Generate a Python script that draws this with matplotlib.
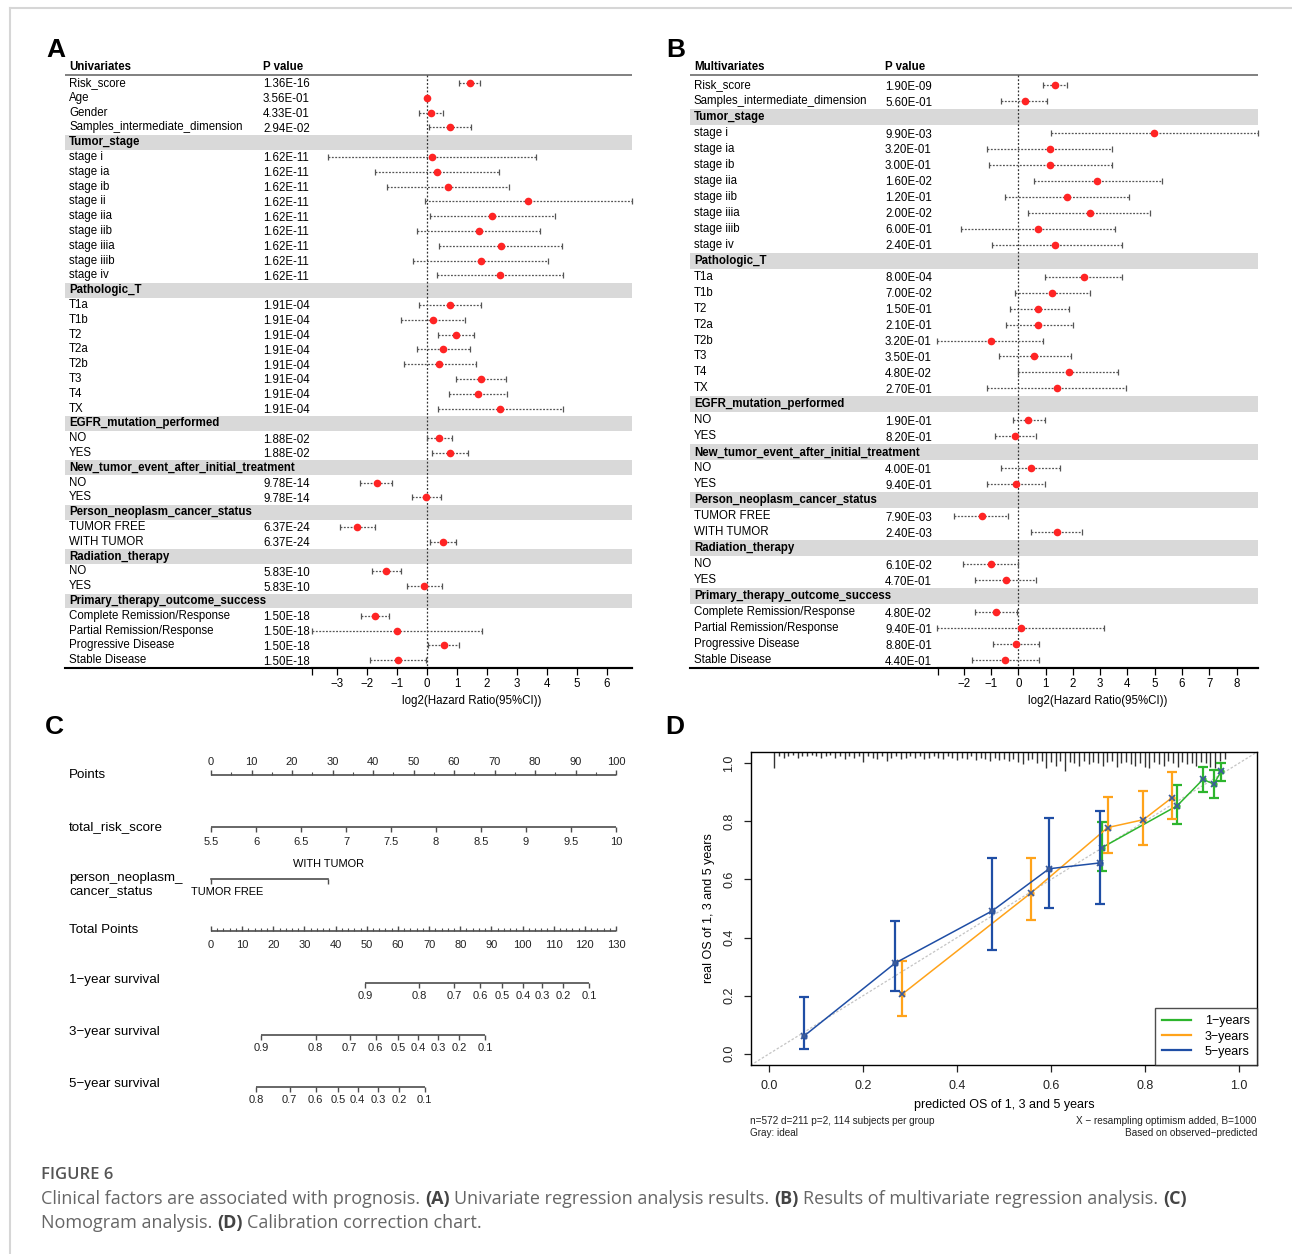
import numpy as np
import matplotlib
matplotlib.use('Agg')
import matplotlib.pyplot as plt
from matplotlib.lines import Line2D

plt.rcParams['font.family'] = ['Liberation Sans', 'DejaVu Sans']
nan = np.nan

# ---------------- data ----------------
uni_labels = ['Risk_score', 'Age', 'Gender', 'Samples_intermediate_dimension',
              'Tumor_stage', 'stage i', 'stage ia', 'stage ib', 'stage ii', 'stage iia',
              'stage iib', 'stage iiia', 'stage iiib', 'stage iv',
              'Pathologic_T', 'T1a', 'T1b', 'T2', 'T2a', 'T2b', 'T3', 'T4', 'TX',
              'EGFR_mutation_performed', 'NO', 'YES',
              'New_tumor_event_after_initial_treatment', 'NO', 'YES',
              'Person_neoplasm_cancer_status', 'TUMOR FREE', 'WITH TUMOR',
              'Radiation_therapy', 'NO', 'YES',
              'Primary_therapy_outcome_success', 'Complete Remission/Response',
              'Partial Remission/Response', 'Progressive Disease', 'Stable Disease']
uni_p = ['1.36E-16', '3.56E-01', '4.33E-01', '2.94E-02',
         ''] + ['1.62E-11'] * 9 + [''] + ['1.91E-04'] * 8 + [''] + ['1.88E-02'] * 2 + \
        [''] + ['9.78E-14'] * 2 + [''] + ['6.37E-24'] * 2 + [''] + ['5.83E-10'] * 2 + \
        [''] + ['1.50E-18'] * 4
uni_hr = [1.43, 0.0, 0.13, 0.76, nan, 0.15, 0.32, 0.69, 3.37, 2.17, 1.72, 2.46, 1.80, 2.43,
          nan, 0.76, 0.18, 0.97, 0.54, 0.41, 1.80, 1.70, 2.45, nan, 0.41, 0.76,
          nan, -1.69, -0.03, nan, -2.34, 0.53, nan, -1.36, -0.10,
          nan, -1.74, -1.02, 0.57, -0.99]
uni_lo = [1.08, -0.03, -0.26, 0.06, nan, -3.31, -1.74, -1.35, -0.08, 0.08, -0.33, 0.41, -0.46, 0.32,
          nan, -0.26, -0.89, 0.35, -0.33, -0.79, 0.97, 0.72, 0.37, nan, 0.0, 0.17,
          nan, -2.23, -0.51, nan, -2.92, 0.10, nan, -1.84, -0.68,
          nan, -2.20, -3.85, 0.03, -1.90]
uni_hi = [1.76, 0.03, 0.53, 1.47, nan, 3.63, 2.39, 2.73, 6.85, 4.26, 3.78, 4.50, 4.05, 4.54,
          nan, 1.80, 1.26, 1.58, 1.42, 1.62, 2.64, 2.68, 4.53, nan, 0.84, 1.38,
          nan, -1.17, 0.46, nan, -1.76, 0.98, nan, -0.88, 0.50,
          nan, -1.27, 1.83, 1.07, -0.05]

multi_labels = ['Risk_score', 'Samples_intermediate_dimension',
                'Tumor_stage', 'stage i', 'stage ia', 'stage ib', 'stage iia', 'stage iib',
                'stage iiia', 'stage iiib', 'stage iv',
                'Pathologic_T', 'T1a', 'T1b', 'T2', 'T2a', 'T2b', 'T3', 'T4', 'TX',
                'EGFR_mutation_performed', 'NO', 'YES',
                'New_tumor_event_after_initial_treatment', 'NO', 'YES',
                'Person_neoplasm_cancer_status', 'TUMOR FREE', 'WITH TUMOR',
                'Radiation_therapy', 'NO', 'YES',
                'Primary_therapy_outcome_success', 'Complete Remission/Response',
                'Partial Remission/Response', 'Progressive Disease', 'Stable Disease']
multi_p = ['1.90E-09', '5.60E-01', '', '9.90E-03', '3.20E-01', '3.00E-01', '1.60E-02',
           '1.20E-01', '2.00E-02', '6.00E-01', '2.40E-01', '', '8.00E-04', '7.00E-02',
           '1.50E-01', '2.10E-01', '3.20E-01', '3.50E-01', '4.80E-02', '2.70E-01', '',
           '1.90E-01', '8.20E-01', '', '4.00E-01', '9.40E-01', '', '7.90E-03', '2.40E-03',
           '', '6.10E-02', '4.70E-01', '', '4.80E-02', '9.40E-01', '8.80E-01', '4.40E-01']
multi_hr = [1.36, 0.25, nan, 4.98, 1.17, 1.17, 2.89, 1.78, 2.63, 0.74, 1.36,
            nan, 2.40, 1.24, 0.74, 0.74, -1.00, 0.57, 1.87, 1.41, nan, 0.35, -0.13,
            nan, 0.45, -0.07, nan, -1.34, 1.41, nan, -1.00, -0.44,
            nan, -0.81, 0.11, -0.08, -0.50]
multi_lo = [0.91, -0.64, nan, 1.19, -1.15, -1.08, 0.57, -0.48, 0.37, -2.08, -0.96,
            nan, 0.99, -0.11, -0.30, -0.45, -2.96, -0.69, 0.0, -1.15, nan, -0.21, -0.86,
            nan, -0.64, -1.15, nan, -2.35, 0.47, nan, -2.02, -1.57,
            nan, -1.57, -2.96, -0.92, -1.70]
multi_hi = [1.80, 1.06, nan, 8.78, 3.44, 3.44, 5.26, 4.06, 4.82, 3.56, 3.80,
            nan, 3.79, 2.63, 1.87, 2.01, 0.89, 1.94, 3.66, 3.96, nan, 0.98, 0.65,
            nan, 1.51, 0.98, nan, -0.38, 2.35, nan, -0.01, 0.65,
            nan, -0.04, 3.15, 0.75, 0.75]

# nomogram (points scale 0-100)
points_ticks = list(range(0, 101, 10))
risk_ticks = [5.5, 6, 6.5, 7, 7.5, 8, 8.5, 9, 9.5, 10]
risk_range = (5.5, 10)
neo_levels = ['TUMOR FREE', 'WITH TUMOR']
neo_points = [0, 29]
total_ticks = list(range(0, 131, 10))
total_max = 130
surv1_prob = [0.9, 0.8, 0.7, 0.6, 0.5, 0.4, 0.3, 0.2, 0.1]
surv1_tot = [49.4, 66.9, 78.0, 86.4, 93.5, 100.1, 106.4, 113.1, 121.4]
surv3_prob = [0.9, 0.8, 0.7, 0.6, 0.5, 0.4, 0.3, 0.2, 0.1]
surv3_tot = [16.2, 33.6, 44.5, 52.9, 60.0, 66.4, 72.9, 79.7, 87.9]
surv5_prob = [0.8, 0.7, 0.6, 0.5, 0.4, 0.3, 0.2, 0.1]
surv5_tot = [14.4, 25.2, 33.6, 40.7, 47.1, 53.6, 60.3, 68.6]

# calibration
cal1_x = [0.709, 0.869, 0.924, 0.947, 0.963]
cal1_y = [0.710, 0.854, 0.945, 0.929, 0.973]
cal1_lo = [0.629, 0.791, 0.902, 0.882, 0.941]
cal1_hi = [0.798, 0.924, 0.988, 0.979, 1.000]
cal3_x = [0.283, 0.557, 0.721, 0.797, 0.858]
cal3_y = [0.205, 0.553, 0.779, 0.806, 0.882]
cal3_lo = [0.128, 0.459, 0.692, 0.720, 0.809]
cal3_hi = [0.318, 0.675, 0.885, 0.906, 0.969]
cal5_x = [0.074, 0.268, 0.475, 0.596, 0.704]
cal5_y = [0.061, 0.312, 0.492, 0.637, 0.657]
cal5_lo = [0.017, 0.217, 0.358, 0.502, 0.516]
cal5_hi = [0.196, 0.457, 0.674, 0.812, 0.836]
# distribution of predictions, bins 0.01 ... 0.97 (tick length)
rug_bins = np.round(np.arange(1, 98) / 100, 2)
rug_len = [14, 4, 5, 4, 3, 5, 4, 4, 3, 4,
           5, 4, 3, 5, 4, 6, 4, 5, 4, 9,
           4, 5, 6, 4, 8, 5, 4, 6, 5, 4,
           5, 4, 6, 5, 4, 5, 6, 4, 5, 7,
           5, 6, 4, 7, 5, 6, 8, 5, 7, 6,
           8, 6, 9, 11, 7, 6, 10, 8, 14, 9,
           12, 8, 17, 9, 10, 12, 8, 11, 9, 10,
           12, 9, 8, 13, 10, 9, 11, 12, 10, 13,
           14, 9, 11, 12, 8, 10, 13, 9, 11, 10,
           12, 9, 10, 13, 14, 8, 6]

W, H = 1292, 1254
fig = plt.figure(figsize=(W / 100, H / 100), dpi=100)


def px_axes(x0, y0, x1, y1):
    return fig.add_axes([x0 / W, 1 - y1 / H, (x1 - x0) / W, (y1 - y0) / H])


FS = 8.3


def forest(x0, x1, fx0, y_first, step, title, labels, pvals, hr, lo, hi, xlim, pcol, ticks):
    top, bot = 60, 668
    y_lo = (bot - y_first) / step
    y_hi = (top - y_first) / step
    rows = np.arange(len(labels))
    hr, lo, hi = np.array(hr), np.array(lo), np.array(hi)

    tab = px_axes(x0, top, x1, bot)
    tab.set_xlim(x0, x1)
    tab.set_ylim(y_lo, y_hi)
    tab.axis('off')
    head_y = (67 - y_first) / step
    line_y = (75 - y_first) / step
    tab.text(x0 + 4, head_y, title, fontsize=FS, fontweight='bold', va='center')
    tab.text(pcol, head_y, 'P value', fontsize=FS, fontweight='bold', va='center')
    tab.plot([x0, x1], [line_y, line_y], color='#808080', lw=1.4)
    tab.plot([x0, x1], [y_lo, y_lo], color='black', lw=1.5, clip_on=False)
    for i, (lab, p) in enumerate(zip(labels, pvals)):
        if p == '':
            tab.axhspan(i - 0.5, i + 0.5, color='#d9d9d9', lw=0)
            tab.text(x0 + 4, i, lab, fontsize=FS, fontweight='bold', va='center')
        else:
            tab.text(x0 + 4, i, lab, fontsize=FS, va='center')
            tab.text(pcol, i + 0.1, p, fontsize=FS, va='center')

    fa = px_axes(fx0, top, x1, bot)
    fa.patch.set_alpha(0)
    fa.set_xlim(*xlim)
    fa.set_ylim(y_lo, y_hi)
    for s in ['top', 'left', 'right']:
        fa.spines[s].set_visible(False)
    fa.spines['bottom'].set_linewidth(1.5)
    fa.set_yticks([])
    fa.set_xticks(ticks)
    fa.set_xticks([xlim[0]], minor=True)
    fa.tick_params(axis='x', which='both', direction='out', length=5, width=0.9,
                   labelsize=FS, pad=2)
    fa.set_xlabel('log2(Hazard Ratio(95%CI))', fontsize=FS, labelpad=4)
    fa.vlines(0, line_y, y_lo, color='#333333', lw=0.9, linestyles=(0, (1.5, 1.5)))
    ok = ~np.isnan(hr)
    fa.hlines(rows[ok], lo[ok], hi[ok], color='#555555', lw=0.9,
              linestyles=(0, (1.5, 1.2)), clip_on=False)
    fa.plot(lo[ok], rows[ok], '|', color='#555555', ms=5, mew=0.9, clip_on=False)
    fa.plot(hi[ok], rows[ok], '|', color='#555555', ms=5, mew=0.9, clip_on=False)
    fa.plot(hr[ok], rows[ok], 'o', color='#ff2424', ms=5.5, mec='none', clip_on=False)


forest(65, 632, 312, 83, 14.8, 'Univariates', uni_labels, uni_p, uni_hr, uni_lo, uni_hi,
       (-3.85, 6.85), 263, list(range(-3, 7)))
forest(690, 1258, 938, 85, 15.97, 'Multivariates', multi_labels, multi_p, multi_hr, multi_lo,
       multi_hi, (-2.94, 8.78), 885, list(range(-2, 9)))

# ---------------- C: nomogram ----------------
nom = px_axes(60, 740, 640, 1130)
nom.set_xlim((60 - 211) / 4.05, (640 - 211) / 4.05)
nom.set_ylim(1130, 740)
nom.axis('off')
lab_x = (69 - 211) / 4.05
NC = '#4d4d4d'


def scale(y, xs, labels, up, lab_dy, minor=()):
    nom.plot([min(xs), max(xs)], [y, y], color=NC, lw=1.2, solid_capstyle='butt')
    d = -5 if up else 5
    nom.vlines(xs, y, y + d, color=NC, lw=1)
    if len(minor):
        nom.vlines(minor, y, y + d * 0.6, color=NC, lw=0.8)
    for x, l in zip(xs, labels):
        nom.text(x, y + lab_dy, l, ha='center', va='center', fontsize=8, color='#222222')


LFS = 9.6
nom.text(lab_x, 775, 'Points', fontsize=LFS, va='center')
scale(775, points_ticks, [str(v) for v in points_ticks], True, -13,
      minor=[v + 5 for v in points_ticks[:-1]])

nom.text(lab_x, 827, 'total_risk_score', fontsize=LFS, va='center')
risk_x = [(v - risk_range[0]) / (risk_range[1] - risk_range[0]) * 100 for v in risk_ticks]
scale(827, risk_x, [('%g' % v) for v in risk_ticks], False, 15)

nom.text(lab_x, 885, 'person_neoplasm_\ncancer_status', fontsize=LFS, va='center',
         linespacing=1.25)
nom.plot(neo_points, [879, 879], color=NC, lw=1.2)
nom.vlines(neo_points, 879, 884, color=NC, lw=1)
nom.text(neo_points[1], 864, neo_levels[1], ha='center', va='center', fontsize=7.9)
nom.text(neo_points[0] - 5, 892, neo_levels[0], ha='left', va='center', fontsize=7.9)

nom.text(lab_x, 930, 'Total Points', fontsize=LFS, va='center')
tot_x = [v / total_max * 100 for v in total_ticks]
tot_minor = [v / total_max * 100 for v in range(0, 131, 2) if v % 10]
scale(931, tot_x, [str(v) for v in total_ticks], True, 14, minor=tot_minor)

for y, name, probs, tots in [(983, '1\u2212year survival', surv1_prob, surv1_tot),
                             (1035, '3\u2212year survival', surv3_prob, surv3_tot),
                             (1087, '5\u2212year survival', surv5_prob, surv5_tot)]:
    nom.text(lab_x, y - 3, name, fontsize=LFS, va='center')
    scale(y, [t / total_max * 100 for t in tots], [('%g' % p) for p in probs], False, 13)

# ---------------- D: calibration ----------------
cal = px_axes(750.7, 751.8, 1257.4, 1065.2)
cal.set_xlim(-0.04, 1.04)
cal.set_ylim(-0.04, 1.04)
ticks = [0, 0.2, 0.4, 0.6, 0.8, 1.0]
cal.set_xticks(ticks)
cal.set_xticklabels(['%.1f' % t for t in ticks])
cal.set_yticks(ticks)
cal.set_yticklabels(['%.1f' % t for t in ticks], rotation=90, va='center')
cal.tick_params(direction='out', length=5, width=0.9, labelsize=9, pad=6, colors='#222222')
for s in cal.spines.values():
    s.set_linewidth(1.0)
cal.set_xlabel('predicted OS of 1, 3 and 5 years', fontsize=9, labelpad=5)
cal.set_ylabel('real OS of 1, 3 and 5 years', fontsize=9, labelpad=6)
cal.plot([-0.04, 1.04], [-0.04, 1.04], color='#c4c4c4', lw=0.9, ls=(0, (2, 1.5)))
cal.vlines(rug_bins, 1.04 - np.array(rug_len) * 1.15 / 290.3, 1.04, color='#333333', lw=1.0)

series = [('1\u2212years', '#2db52d', cal1_x, cal1_y, cal1_lo, cal1_hi),
          ('3\u2212years', '#ffa31a', cal3_x, cal3_y, cal3_lo, cal3_hi),
          ('5\u2212years', '#1f4ea5', cal5_x, cal5_y, cal5_lo, cal5_hi)]
handles = []
for name, c, xs, ys, lo, hi in series:
    ys_a = np.array(ys)
    err = [ys_a - np.array(lo), np.array(hi) - ys_a]
    cal.errorbar(xs, ys, yerr=err, fmt='none', ecolor=c, elinewidth=1.6, capsize=3.6,
                 capthick=1.6)
    cal.plot(xs, ys, '-', color=c, lw=1.1)
    cal.plot(xs, ys, 'o', color=c, ms=3.5)
    cal.plot(xs, ys, 'x', color='#3d5c99', ms=5, mew=1.2)
    handles.append(Line2D([], [], color=c, lw=1.6, label=name))
leg = cal.legend(handles=handles, loc='lower right', fontsize=9, frameon=True, fancybox=False,
                 borderaxespad=0, handlelength=2.3, handletextpad=1.1, borderpad=0.6,
                 labelspacing=0.25)
leg.get_frame().set_edgecolor('#222222')
leg.get_frame().set_linewidth(1.0)

SFS = 7.2
fig.text(750 / W, 1 - 1121 / H, 'n=572 d=211 p=2, 114 subjects per group', fontsize=SFS,
         va='center', color='#222222')
fig.text(750 / W, 1 - 1133 / H, 'Gray: ideal', fontsize=SFS, va='center', color='#222222')
fig.text(1257 / W, 1 - 1121 / H, 'X \u2212 resampling optimism added, B=1000', fontsize=SFS,
         va='center', ha='right', color='#222222')
fig.text(1257 / W, 1 - 1133 / H, 'Based on observed\u2212predicted', fontsize=SFS,
         va='center', ha='right', color='#222222')

# ---------------- panel letters ----------------
for letter, x, y in [('A', 46, 50), ('B', 666, 50), ('C', 45, 727), ('D', 665, 727)]:
    fig.text(x / W, 1 - y / H, letter, fontsize=19, fontweight='bold', va='center')

# ---------------- caption ----------------
renderer = fig.canvas.get_renderer()
CAP = ['Open Sans', 'DejaVu Sans']


def rich_line(x, y, parts, size):
    gap = size * 0.26 * 100 / 72
    for s, bold in parts:
        t = fig.text(x / W, 1 - y / H, s, fontsize=size, family=CAP, va='center',
                     fontweight='bold' if bold else 'normal',
                     color='#444444' if bold else '#666666')
        x += t.get_window_extent(renderer=renderer).width + gap


fig.text(41 / W, 1 - 1175 / H, 'FIGURE 6', fontsize=12, family=CAP, va='center',
         color='#555555', fontweight='semibold')
rich_line(41, 1199, [('Clinical factors are associated with prognosis.', False), ('(A)', True),
                     ('Univariate regression analysis results.', False), ('(B)', True),
                     ('Results of multivariate regression analysis.', False), ('(C)', True)], 13)
rich_line(41, 1223, [('Nomogram analysis.', False), ('(D)', True),
                     ('Calibration correction chart.', False)], 13)

# light frame
fig.add_artist(Line2D([9.5 / W, 9.5 / W], [0, 1 - 7.5 / H], transform=fig.transFigure,
                      color='#d6d6d6', lw=1.5))
fig.add_artist(Line2D([9.5 / W, 1], [1 - 7.5 / H, 1 - 7.5 / H], transform=fig.transFigure,
                      color='#d6d6d6', lw=1.5))

fig.savefig('out.png', dpi=100)
